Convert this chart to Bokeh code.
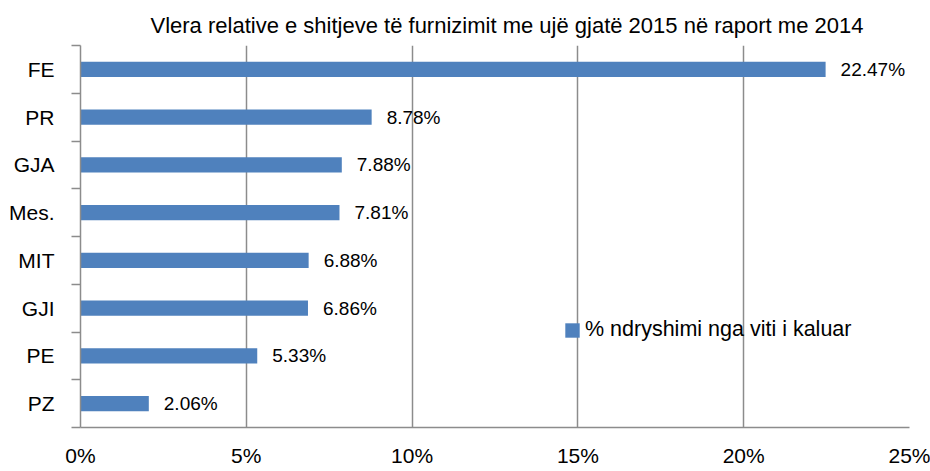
from bokeh.plotting import figure
from bokeh.models import (ColumnDataSource, Range1d, LinearAxis, FixedTicker,
                          NumeralTickFormatter, Legend, LegendItem, LabelSet, Title)
from bokeh.core.properties import value
from bokeh.embed import file_html
from bokeh.resources import INLINE

categories = ["FE", "PR", "GJA", "Mes.", "MIT", "GJI", "PE", "PZ"]
values = [22.47, 8.78, 7.88, 7.81, 6.88, 6.86, 5.33, 2.06]
value_labels = ["22.47%", "8.78%", "7.88%", "7.81%", "6.88%", "6.86%", "5.33%", "2.06%"]
x_ticks = [0, 5, 10, 15, 20, 25]
title_text = "Vlera relative e shitjeve të furnizimit me ujë gjatë 2015 në raport me 2014"
series_name = "% ndryshimi nga viti i kaluar"

FONT = "Liberation Sans"
BAR = "#4f81bd"
GRID = "#8c8c8c"

src = ColumnDataSource(dict(cat=categories, val=[v / 100 for v in values], lab=value_labels))

p = figure(width=930, height=471, output_backend="svg", toolbar_location=None,
           y_range=list(reversed(categories)), x_range=Range1d(0, 0.25),
           min_border_left=80, min_border_right=21, min_border_top=45, min_border_bottom=44)
p.outline_line_color = None
p.background_fill_color = "white"

r = p.hbar(y="cat", right="val", left=0, height=0.32, source=src, color=BAR, line_color=None)

labels = LabelSet(x="val", y="cat", text="lab", source=src, x_offset=15,
                  text_baseline="middle", text_align="left",
                  text_font=value(FONT), text_font_size=value("19px"), text_color="black")
p.add_layout(labels)

# x axis
xa = p.xaxis[0]
xa.ticker = FixedTicker(ticks=[t / 100 for t in x_ticks])
xa.formatter = NumeralTickFormatter(format="0%")
xa.major_tick_out = 0
xa.major_tick_in = 0
xa.minor_tick_out = 0
xa.minor_tick_in = 0
xa.axis_line_color = GRID
xa.axis_line_width = 1.5
xa.major_label_text_font = FONT
xa.major_label_text_font_size = "21px"
xa.major_label_text_color = "black"
xa.major_label_standoff = 16

p.xgrid.ticker = FixedTicker(ticks=[t / 100 for t in x_ticks[1:]])
p.xgrid.grid_line_color = GRID
p.xgrid.grid_line_width = 1.5
p.ygrid.grid_line_color = None

# y axis with category labels (no ticks)
ya = p.yaxis[0]
ya.axis_line_color = None
ya.major_tick_out = 0
ya.major_tick_in = 0
ya.major_label_text_font = FONT
ya.major_label_text_font_size = "21px"
ya.major_label_text_color = "black"
ya.major_label_standoff = 17

# boundary ticks axis (category boundaries in synthetic coordinates)
bounds = list(range(len(categories) + 1))
ba = LinearAxis(ticker=FixedTicker(ticks=bounds),
                major_label_overrides={b: "" for b in bounds}, major_label_standoff=0,
                major_tick_out=9, major_tick_in=0, minor_tick_out=0, minor_tick_in=0,
                axis_line_color=GRID, axis_line_width=1.5,
                major_tick_line_color=GRID, major_tick_line_width=1.5)
p.left.insert(0, ba)

legend = Legend(items=[LegendItem(label=series_name, renderers=[r])],
                location=(483, 85), background_fill_alpha=0, border_line_color=None,
                padding=0, margin=0, glyph_width=18, glyph_height=18, label_height=20,
                label_standoff=4, label_text_font=FONT, label_text_font_size="21.5px",
                label_text_color="black")
p.add_layout(legend)

p.title = Title(text=title_text, align="left", offset=70, text_font=FONT, text_font_size="22px",
                text_font_style="normal", text_color="black", standoff=15)

open("out.html", "w").write(file_html(p, INLINE))
